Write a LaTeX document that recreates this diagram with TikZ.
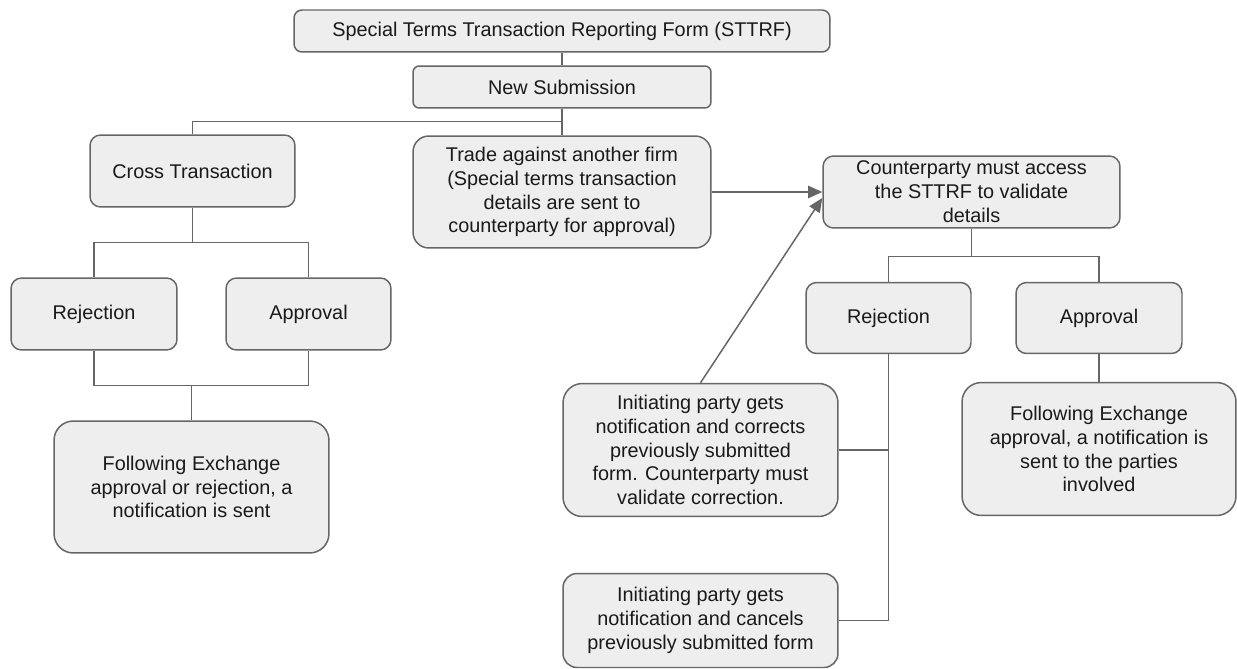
\documentclass[tikz,border=0pt]{standalone}
\usepackage{fontspec}
\setmainfont{Liberation Sans}
\usetikzlibrary{arrows.meta,calc}
\definecolor{boxfill}{HTML}{EEEEEE}
\definecolor{edgegray}{HTML}{666666}
\definecolor{txt}{HTML}{1A1A1A}
\begin{document}
\begin{tikzpicture}[x=0.02cm,y=-0.02cm,
  box/.style={draw=edgegray, fill=boxfill, line width=0.85pt, align=center, inner sep=0pt,
    text=txt, font=\fontsize{11.3}{13.6}\selectfont},
  conn/.style={draw=edgegray, line width=0.85pt},
  arr/.style={conn, -{Triangle[length=8pt,width=7pt]}}]
\useasboundingbox (0,0) rectangle (1237,669);
% nodes
\node[box, rounded corners=4.5pt, minimum width=10.72cm, minimum height=0.84cm] (title) at (562,31) {Special Terms Transaction Reporting Form (STTRF)};
\node[box, rounded corners=3.5pt, minimum width=5.96cm, minimum height=0.84cm] (newsub) at (562,87) {New Submission};
\node[box, rounded corners=6pt, minimum width=4.10cm, minimum height=1.44cm] (cross) at (192.5,171) {Cross Transaction};
\node[box, rounded corners=9pt, minimum width=5.96cm, minimum height=2.24cm] (trade) at (562,192) {Trade against another firm\\(Special terms transaction\\details are sent to\\counterparty for approval)};
\node[box, rounded corners=6pt, minimum width=5.94cm, minimum height=1.44cm] (counter) at (971.5,192) {Counterparty must access\\the STTRF to validate\\details};
\node[box, rounded corners=6pt, minimum width=3.32cm, minimum height=1.44cm] (rejL) at (94,314) {Rejection};
\node[box, rounded corners=6pt, minimum width=3.30cm, minimum height=1.44cm] (appL) at (308.5,314) {Approval};
\node[box, rounded corners=11pt, minimum width=5.50cm, minimum height=2.64cm] (followL) at (191.5,487) {Following Exchange\\approval or rejection, a\\notification is sent};
\node[box, rounded corners=6pt, minimum width=3.30cm, minimum height=1.42cm] (rejR) at (888.5,318) {Rejection};
\node[box, rounded corners=6pt, minimum width=3.32cm, minimum height=1.42cm] (appR) at (1099,318) {Approval};
\node[box, rounded corners=11pt, minimum width=5.50cm, minimum height=2.66cm] (corrects) at (700.5,450) {Initiating party gets\\notification and corrects\\previously submitted\\form. Counterparty must\\validate correction.};
\node[box, rounded corners=11pt, minimum width=5.48cm, minimum height=2.66cm] (followR) at (1099,449) {Following Exchange\\approval, a notification is\\sent to the parties\\involved};
\node[box, rounded corners=8pt, minimum width=5.50cm, minimum height=1.88cm] (cancels) at (700.5,620.5) {Initiating party gets\\notification and cancels\\previously submitted form};
% connectors
\draw[conn] (title.south) -- (newsub.north);
\draw[conn] (newsub.south) -- (trade.north);
\draw[conn] (newsub.south) -- ++(0,13) -| (cross.north);
\draw[conn] (cross.south) -- ++(0,35) coordinate (cj);
\draw[conn] (rejL.north) |- (cj) -| (appL.north);
\draw[conn] (followL.north) -- ++(0,-35) coordinate (bj);
\draw[conn] (rejL.south) |- (bj) -| (appL.south);
\draw[arr] (trade.east) -- (counter.west);
\draw[arr] (corrects.north) -- ([yshift=-0.12cm]counter.west);
\draw[conn] (counter.south) -- ++(0,28) coordinate (rj);
\draw[conn] (rejR.north) |- (rj) -| (appR.north);
\draw[conn] (rejR.south) |- (cancels.east);
\draw[conn] (corrects.east) -- (corrects.east -| rejR.south);
\draw[conn] (appR.south) -- (followR.north);
\end{tikzpicture}
\end{document}
